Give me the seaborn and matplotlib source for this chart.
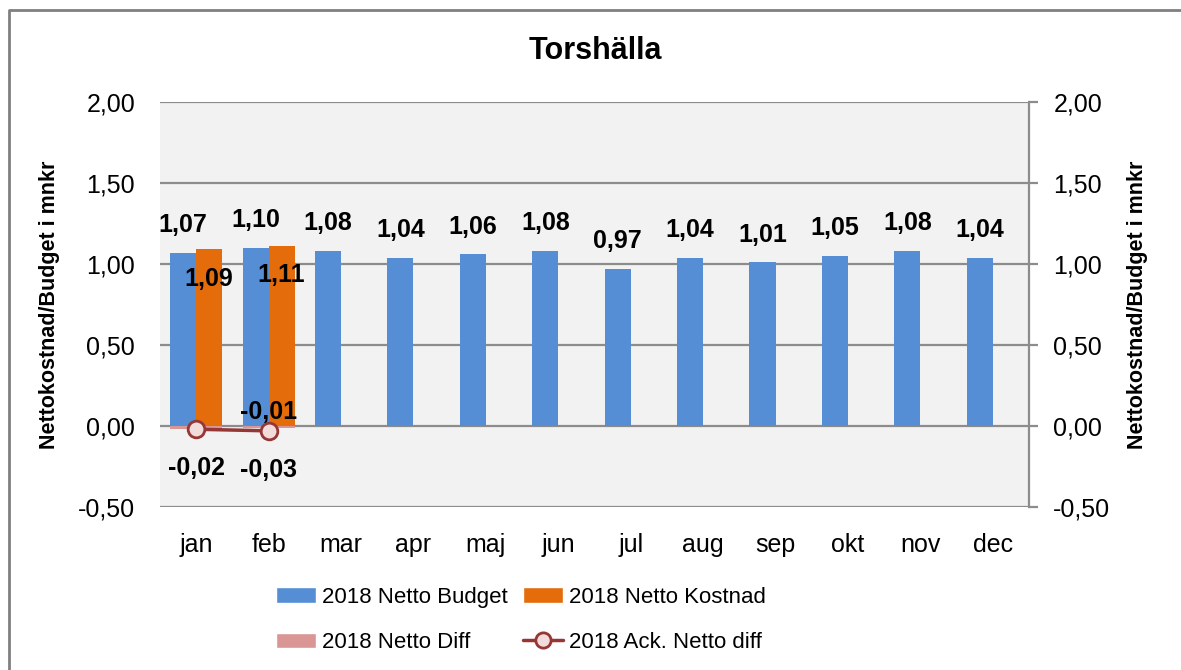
import numpy as np
import pandas as pd
import seaborn as sns
import matplotlib.pyplot as plt
from matplotlib.patches import Patch
from matplotlib.lines import Line2D
from matplotlib.ticker import FuncFormatter

# data
months = ["jan", "feb", "mar", "apr", "maj", "jun", "jul", "aug", "sep", "okt", "nov", "dec"]
netto_budget = [1.07, 1.10, 1.08, 1.04, 1.06, 1.08, 0.97, 1.04, 1.01, 1.05, 1.08, 1.04]
netto_kostnad = [1.09, 1.11]
netto_diff = [-0.02, -0.01]
ack_netto_diff = [-0.02, -0.03]

blue = "#558ED5"
orange = "#E46C0A"
pink = "#D99694"
darkred = "#953735"
grid_col = "#8C8C8C"

sns.set_theme(style="white")
plt.rcParams["font.family"] = ["Liberation Sans", "DejaVu Sans"]
plt.rcParams["text.color"] = "black"
plt.rcParams["axes.labelcolor"] = "black"
plt.rcParams["xtick.color"] = "black"
plt.rcParams["ytick.color"] = "black"


def fmt(v):
    return "{:.2f}".format(v).replace(".", ",")


df = pd.DataFrame({
    "month": months * 2,
    "serie": ["2018 Netto Budget"] * 12 + ["2018 Netto Kostnad"] * 12,
    "value": netto_budget + netto_kostnad + [np.nan] * (12 - len(netto_kostnad)),
})

fig = plt.figure(figsize=(11.81, 6.70), dpi=100)
ax = fig.add_axes([160 / 1181, 1 - 507 / 670, 869 / 1181, 405 / 670])
ax.set_facecolor("#F2F2F2")

# diff bars (sekundär axel i excel) bakom
sns.barplot(x=months[:len(netto_diff)], y=netto_diff, order=months, color=pink,
            width=0.72, saturation=1, linewidth=0, ax=ax, zorder=1)
n_diff = len(ax.containers)

sns.barplot(data=df, x="month", y="value", hue="serie", order=months,
            palette=[blue, orange], width=0.72, gap=0, saturation=1, linewidth=0,
            legend=False, ax=ax, zorder=2)

sns.lineplot(x=list(range(len(ack_netto_diff))), y=ack_netto_diff, ax=ax, sort=False,
             color=darkred, linewidth=2.5, marker="o", markersize=12,
             markerfacecolor="#F2DCDB", markeredgecolor=darkred, markeredgewidth=2,
             zorder=5)

ax.set_xlim(-0.5, len(months) - 0.5)
ax.set_ylim(-0.5, 2.0)
ax.set_yticks(np.arange(-0.5, 2.01, 0.5))
ax.yaxis.set_major_formatter(FuncFormatter(lambda v, p: fmt(v)))
ax.grid(axis="y", color=grid_col, linewidth=1.6)
ax.set_axisbelow(True)
for s in ax.spines.values():
    s.set_visible(False)
ax.set_xlabel("")
ax.set_ylabel("")
ax.tick_params(axis="y", length=0, pad=18, labelsize=18, colors="black")
ax.tick_params(axis="x", length=0, pad=19, labelsize=18, colors="black")

# datalabels
budget_bars = ax.containers[n_diff]
kostnad_bars = ax.containers[n_diff + 1]
for rect, v in zip(budget_bars, netto_budget):
    ax.annotate(fmt(v), (rect.get_x() + rect.get_width() / 2, rect.get_height()),
                xytext=(0, 20), textcoords="offset points", ha="center", va="center",
                fontsize=18, fontweight="bold")
for rect, v in zip(kostnad_bars, netto_kostnad):
    ax.annotate(fmt(v), (rect.get_x() + rect.get_width() / 2, rect.get_height()),
                xytext=(0, -21), textcoords="offset points", ha="center", va="center",
                fontsize=18, fontweight="bold")
for i, v in enumerate(ack_netto_diff):
    ax.annotate(fmt(v), (i, v), xytext=(0, -28), textcoords="offset points",
                ha="center", va="center", fontsize=18, fontweight="bold")
# diff-etiketten för jan ligger ovanpå ack-etiketten, så bara de som skiljer sig
for i, v in enumerate(netto_diff):
    if v != ack_netto_diff[i]:
        ax.annotate(fmt(v), (i, 0), xytext=(0, 10), textcoords="offset points",
                    ha="center", va="center", fontsize=18, fontweight="bold")

# höger axel
ax2 = ax.twinx()
ax2.set_ylim(-0.5, 2.0)
ax2.set_yticks(np.arange(-0.5, 2.01, 0.5))
ax2.yaxis.set_major_formatter(FuncFormatter(lambda v, p: fmt(v)))
for side, s in ax2.spines.items():
    s.set_visible(side == "right")
ax2.spines["right"].set_color(grid_col)
ax2.spines["right"].set_linewidth(1.6)
ax2.tick_params(axis="y", direction="out", length=6.5, width=1.6, color=grid_col,
                pad=11, labelsize=18, labelcolor="black")
ax2.grid(False)

fig.text(595 / 1181, 1 - 51 / 670, "Torshälla", ha="center", va="center",
         fontsize=22, fontweight="bold")
fig.text(50 / 1181, 1 - 305 / 670, "Nettokostnad/Budget i mnkr", rotation=90,
         ha="center", va="center", fontsize=15.5, fontweight="bold")
fig.text(1137 / 1181, 1 - 305 / 670, "Nettokostnad/Budget i mnkr", rotation=90,
         ha="center", va="center", fontsize=15.5, fontweight="bold")

handles = [
    Patch(facecolor=blue, label="2018 Netto Budget"),
    Patch(facecolor=pink, label="2018 Netto Diff"),
    Patch(facecolor=orange, label="2018 Netto Kostnad"),
    Line2D([], [], color=darkred, linewidth=2.5, marker="o", markersize=11,
           markerfacecolor="#F2DCDB", markeredgecolor=darkred, markeredgewidth=2,
           label="2018 Ack. Netto diff"),
]
fig.legend(handles=handles, ncol=2, loc="center", bbox_to_anchor=(521 / 1181, 1 - 620 / 670),
           frameon=False, fontsize=16, handlelength=1.8, handleheight=0.7,
           handletextpad=0.25, columnspacing=0.7, labelspacing=1.1,
           borderpad=0, borderaxespad=0)

# ram runt diagrammet
fig.add_artist(Line2D([8.5 / 1181, 8.5 / 1181, 1.0], [0.0, 1 - 10 / 670, 1 - 10 / 670],
                      transform=fig.transFigure, color="#808080", linewidth=2))

fig.savefig("out.png", dpi=100)
